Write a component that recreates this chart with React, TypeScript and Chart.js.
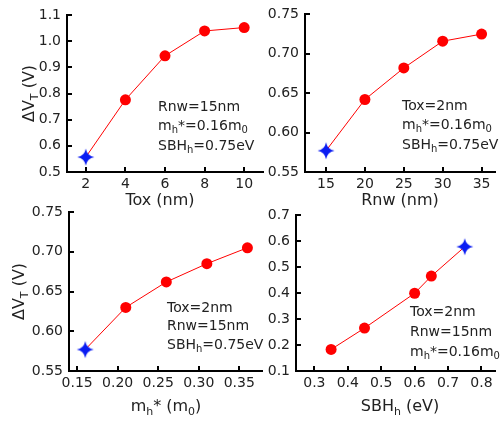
import React, { useEffect, useRef } from 'react';
import { Chart, registerables } from 'chart.js';
Chart.register(...registerables);

// ---- data ----
const toxX = [2, 4, 6, 8, 10];
const toxY = [0.557, 0.776, 0.944, 1.039, 1.052];
const rnwX = [15, 20, 25, 30, 35];
const rnwY = [0.577, 0.642, 0.682, 0.716, 0.725];
const mhX = [0.16, 0.21, 0.26, 0.31, 0.36];
const mhY = [0.577, 0.63, 0.662, 0.685, 0.705];
const sbhX = [0.35, 0.45, 0.6, 0.65, 0.75];
const sbhY = [0.183, 0.265, 0.399, 0.465, 0.578];

const toxTicks = [2, 4, 6, 8, 10];
const toxYTicks = [0.5, 0.6, 0.7, 0.8, 0.9, 1.0, 1.1];
const rnwTicks = [15, 20, 25, 30, 35];
const rnwYTicks = [0.55, 0.6, 0.65, 0.7, 0.75];
const mhTicks = [0.15, 0.2, 0.25, 0.3, 0.35];
const mhYTicks = [0.55, 0.6, 0.65, 0.7, 0.75];
const sbhTicks = [0.3, 0.4, 0.5, 0.6, 0.7, 0.8];
const sbhYTicks = [0.1, 0.2, 0.3, 0.4, 0.5, 0.6, 0.7];

const yTitle = 'ΔV_{T} (V)';
const xTitles = ['Tox (nm)', 'Rnw (nm)', 'm_{h}* (m_{0})', 'SBH_{h} (eV)'];
const notes = [
  ['Rnw=15nm', 'm_{h}*=0.16m_{0}', 'SBH_{h}=0.75eV'],
  ['Tox=2nm', 'm_{h}*=0.16m_{0}', 'SBH_{h}=0.75eV'],
  ['Tox=2nm', 'Rnw=15nm', 'SBH_{h}=0.75eV'],
  ['Tox=2nm', 'Rnw=15nm', 'm_{h}*=0.16m_{0}'],
];

const FONT = '"DejaVu Sans", sans-serif';
const TEXT = '#222';
const RED = '#ff0000';
const BLUE = '#0a1cf2';

const W = 500;
const H = 422;

type Panel = {
  xs: number[]; ys: number[]; xTicks: number[]; yTicks: number[];
  xMin: number; xMax: number; yMin: number; yMax: number;
  xDec: number; yDec: number; star: number;
  area: { l: number; t: number; r: number; b: number };
  xTitle: string; xTitlePos: [number, number];
  yTitleX: number | null; notes: string[]; notePos: [number, number, number];
};

const panels: Panel[] = [
  { xs: toxX, ys: toxY, xTicks: toxTicks, yTicks: toxYTicks, xMin: 1.05, xMax: 10.95, yMin: 0.5, yMax: 1.1,
    xDec: 0, yDec: 1, star: 0, area: { l: 67, t: 15, r: 263, b: 172 },
    xTitle: xTitles[0], xTitlePos: [160, 201], yTitleX: 30, notes: notes[0], notePos: [158, 107, 19.5] },
  { xs: rnwX, ys: rnwY, xTicks: rnwTicks, yTicks: rnwYTicks, xMin: 12.3, xMax: 36.66, yMin: 0.55, yMax: 0.75,
    xDec: 0, yDec: 2, star: 0, area: { l: 305, t: 12, r: 500, b: 172 },
    xTitle: xTitles[1], xTitlePos: [400, 201], yTitleX: null, notes: notes[1], notePos: [402, 106, 19.5] },
  { xs: mhX, ys: mhY, xTicks: mhTicks, yTicks: mhYTicks, xMin: 0.14, xMax: 0.378, yMin: 0.55, yMax: 0.75,
    xDec: 2, yDec: 2, star: 0, area: { l: 69, t: 212, r: 262, b: 371 },
    xTitle: xTitles[2], xTitlePos: [166, 407], yTitleX: 20, notes: notes[2], notePos: [167, 308, 18.5] },
  { xs: sbhX, ys: sbhY, xTicks: sbhTicks, yTicks: sbhYTicks, xMin: 0.245, xMax: 0.839, yMin: 0.1, yMax: 0.7,
    xDec: 1, yDec: 1, star: 4, area: { l: 296, t: 215, r: 500, b: 371 },
    xTitle: xTitles[3], xTitlePos: [400, 407], yTitleX: null, notes: notes[3], notePos: [410, 312, 20] },
];

function parseRich(s: string) {
  const segs: { t: string; sub: boolean }[] = [];
  const re = /_\{([^}]*)\}/g;
  let last = 0;
  let m: RegExpExecArray | null;
  while ((m = re.exec(s))) {
    if (m.index > last) segs.push({ t: s.slice(last, m.index), sub: false });
    segs.push({ t: m[1], sub: true });
    last = re.lastIndex;
  }
  if (last < s.length) segs.push({ t: s.slice(last), sub: false });
  return segs;
}

function drawRich(ctx: CanvasRenderingContext2D, s: string, x: number, y: number, size: number, align: 'left' | 'center') {
  const segs = parseRich(s);
  const sub = Math.round(size * 0.7);
  let total = 0;
  const widths = segs.map((g) => {
    ctx.font = `${g.sub ? sub : size}px ${FONT}`;
    const w = ctx.measureText(g.t).width;
    total += w;
    return w;
  });
  let cx = align === 'center' ? x - total / 2 : x;
  ctx.textAlign = 'left';
  ctx.textBaseline = 'middle';
  ctx.fillStyle = TEXT;
  segs.forEach((g, i) => {
    ctx.font = `${g.sub ? sub : size}px ${FONT}`;
    ctx.fillText(g.t, cx, g.sub ? y + size * 0.3 : y);
    cx += widths[i];
  });
}

function makeStar() {
  const c = document.createElement('canvas');
  c.width = 20; c.height = 20;
  const g = c.getContext('2d')!;
  const cx = 10, cy = 10, R = 8.5, k = 1.3;
  g.fillStyle = BLUE;
  g.beginPath();
  g.moveTo(cx, cy - R);
  g.quadraticCurveTo(cx + k, cy - k, cx + R, cy);
  g.quadraticCurveTo(cx + k, cy + k, cx, cy + R);
  g.quadraticCurveTo(cx - k, cy + k, cx - R, cy);
  g.quadraticCurveTo(cx - k, cy - k, cx, cy - R);
  g.closePath();
  g.fill();
  return c;
}

function PanelChart({ p }: { p: Panel }) {
  const ref = useRef<HTMLCanvasElement>(null);
  useEffect(() => {
    const star = makeStar();
    const yw = 40, xh = 30;
    const deco = {
      id: 'deco',
      afterDraw(chart: any) {
        const ctx = chart.ctx as CanvasRenderingContext2D;
        const xs = chart.scales.x, ys = chart.scales.y;
        const { left, bottom } = chart.chartArea;
        ctx.save();
        ctx.strokeStyle = '#000';
        ctx.lineWidth = 2;
        ctx.beginPath();
        p.xTicks.forEach((v) => {
          const px = Math.round(xs.getPixelForValue(v));
          ctx.moveTo(px, bottom);
          ctx.lineTo(px, bottom - 5);
        });
        p.yTicks.forEach((v) => {
          const py = Math.round(ys.getPixelForValue(v));
          ctx.moveTo(left, py);
          ctx.lineTo(left + 5, py);
        });
        ctx.stroke();
        drawRich(ctx, p.xTitle, p.xTitlePos[0], p.xTitlePos[1], 16, 'center');
        if (p.yTitleX !== null) {
          ctx.save();
          ctx.translate(p.yTitleX, (chart.chartArea.top + bottom) / 2);
          ctx.rotate(-Math.PI / 2);
          drawRich(ctx, yTitle, 0, 0, 16, 'center');
          ctx.restore();
        }
        p.notes.forEach((n, i) => {
          drawRich(ctx, n, p.notePos[0], p.notePos[1] + i * p.notePos[2], 14, 'left');
        });
        ctx.restore();
      },
    };
    const chart = new Chart(ref.current!, {
      type: 'line',
      data: {
        datasets: [
          {
            data: p.xs.map((x, i) => ({ x, y: p.ys[i] })),
            borderColor: RED,
            borderWidth: 1,
            backgroundColor: RED,
            pointBackgroundColor: RED,
            pointBorderColor: RED,
            pointBorderWidth: 0,
            pointRadius: 5.5,
            pointStyle: ((ctx: any) => (ctx.dataIndex === p.star ? star : 'circle')) as any,
            tension: 0,
            clip: false as any,
          },
        ],
      },
      options: {
        animation: false,
        responsive: false,
        devicePixelRatio: 1,
        events: [],
        layout: { padding: { left: p.area.l - yw, right: W - p.area.r, top: p.area.t, bottom: H - p.area.b - xh } },
        plugins: { legend: { display: false }, tooltip: { enabled: false } },
        scales: {
          x: {
            type: 'linear',
            min: p.xMin,
            max: p.xMax,
            afterBuildTicks: (s: any) => { s.ticks = p.xTicks.map((v) => ({ value: v })); },
            afterFit: (s: any) => { s.height = xh; },
            ticks: {
              autoSkip: false,
              maxRotation: 0,
              padding: 4,
              color: TEXT,
              font: { family: FONT, size: 14 },
              callback: (v: any) => Number(v).toFixed(p.xDec),
            },
            grid: { display: true, drawOnChartArea: false, drawTicks: false, color: '#000', lineWidth: 2 },
            border: { display: true, color: '#000', width: 2 },
          },
          y: {
            type: 'linear',
            min: p.yMin,
            max: p.yMax,
            afterBuildTicks: (s: any) => { s.ticks = p.yTicks.map((v) => ({ value: v })); },
            afterFit: (s: any) => { s.width = yw; },
            ticks: {
              autoSkip: false,
              padding: 6,
              color: TEXT,
              font: { family: FONT, size: 14 },
              callback: (v: any) => Number(v).toFixed(p.yDec),
            },
            grid: { display: true, drawOnChartArea: false, drawTicks: false, color: '#000', lineWidth: 2 },
            border: { display: true, color: '#000', width: 2 },
          },
        },
      },
      plugins: [deco as any],
    });
    return () => chart.destroy();
  }, [p]);
  return (
    <canvas
      ref={ref}
      width={W}
      height={H}
      style={{ position: 'absolute', left: 0, top: 0, width: W, height: H }}
    />
  );
}

export default function App() {
  return (
    <div style={{ position: 'fixed', left: 0, top: 0, width: W, height: H, background: '#fff' }}>
      {panels.map((p, i) => (
        <PanelChart key={i} p={p} />
      ))}
    </div>
  );
}
